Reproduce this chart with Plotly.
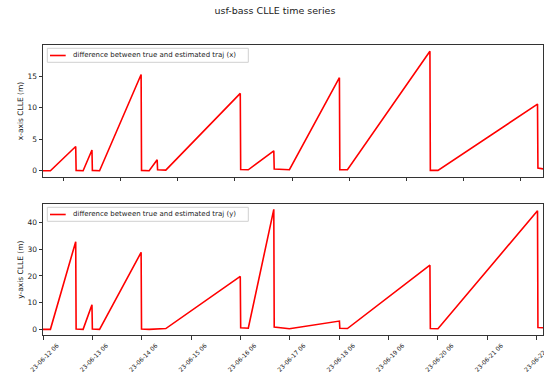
import plotly.graph_objects as go

# sample times (local time) shared by both series
times = [
    "2023-06-12 06:00", "2023-06-12 09:36", "2023-06-12 21:54", "2023-06-12 22:06",
    "2023-06-13 01:30", "2023-06-13 05:48", "2023-06-13 06:00", "2023-06-13 09:30",
    "2023-06-14 05:42", "2023-06-14 05:54", "2023-06-14 09:36", "2023-06-14 13:30",
    "2023-06-14 13:42", "2023-06-14 17:42", "2023-06-16 05:54", "2023-06-16 06:06",
    "2023-06-16 09:48", "2023-06-16 22:12", "2023-06-16 22:24", "2023-06-17 05:48",
    "2023-06-18 06:06", "2023-06-18 06:18", "2023-06-18 10:00", "2023-06-20 02:06",
    "2023-06-20 02:18", "2023-06-20 06:00", "2023-06-22 06:24", "2023-06-22 06:36",
    "2023-06-22 09:04",
]

# CLLE in x (m)
clle_x = [
    0.0, 0.0, 3.85, 0.05,
    0.0, 3.3, 0.05, 0.0,
    15.3, 0.05, 0.0, 1.74,
    0.15, 0.1, 12.3, 0.2,
    0.15, 3.16, 0.27, 0.16,
    14.8, 0.16, 0.15, 19.0,
    0.05, 0.05, 10.6, 0.42,
    0.3,
]

# CLLE in y (m)
clle_y = [
    0.0, 0.0, 32.8, 0.1,
    0.0, 9.2, 0.1, 0.0,
    28.8, 0.1, 0.0, 0.05,
    0.05, 0.3, 19.8, 0.6,
    0.4, 44.9, 0.85, 0.2,
    3.1, 0.4, 0.3, 24.0,
    0.3, 0.2, 44.4, 0.7,
    0.6,
]

x_range = ["2023-06-12 06:00", "2023-06-22 09:04"]

# top panel: unlabelled ticks every 100000 s
top_ticks = [
    "2023-06-12 16:00:00", "2023-06-13 19:46:40", "2023-06-14 23:33:20",
    "2023-06-16 03:20:00", "2023-06-17 07:06:40", "2023-06-18 10:53:20",
    "2023-06-19 14:40:00", "2023-06-20 18:26:40", "2023-06-21 22:13:20",
]

# bottom panel: daily ticks
bottom_ticks = [f"2023-06-{d:02d} 06:00" for d in range(12, 23)]
bottom_labels = [f"23-06-{d:02d} 06" for d in range(12, 23)]

legend_labels = [
    "difference between true and estimated traj (x)",
    "difference between true and estimated traj (y)",
]

FONT = "DejaVu Sans"
AX = "#333333"
TXT = "#222222"
W, H = 544, 372
ML, MR = 43, 1
PW = W - ML - MR


def px(x):
    return (x - ML) / PW


def py(y):
    return 1 - y / H


fig = go.Figure()
fig.add_trace(go.Scatter(
    x=times, y=clle_x, mode="lines",
    line=dict(color="#ff0000", width=1.6),
    name=legend_labels[0], xaxis="x", yaxis="y",
))
fig.add_trace(go.Scatter(
    x=times, y=clle_y, mode="lines",
    line=dict(color="#ff0000", width=1.6),
    name=legend_labels[1], xaxis="x2", yaxis="y2",
))

# matplotlib-style legend boxes (compact)
for label, top in zip(legend_labels, [48.3, 207.3]):
    fig.add_shape(type="rect", xref="paper", yref="paper",
                  x0=px(47.3), x1=px(248.3), y0=py(top + 14), y1=py(top),
                  line=dict(color="#d0d0d0", width=1),
                  fillcolor="rgba(255,255,255,0.8)", layer="above")
    fig.add_shape(type="line", xref="paper", yref="paper",
                  x0=px(50), x1=px(65.7), y0=py(top + 7.2), y1=py(top + 7.2),
                  line=dict(color="#ff0000", width=1.6), layer="above")
    fig.add_annotation(text=label, xref="paper", yref="paper",
                       x=px(70.5), y=py(top + 7), xanchor="left", yanchor="middle",
                       showarrow=False, font=dict(family=FONT, size=7, color=TXT))

axis_common = dict(
    showline=True, linecolor=AX, linewidth=1, mirror=True,
    ticks="outside", ticklen=3.5, tickcolor=AX, tickwidth=1,
    showgrid=False, zeroline=False, automargin=False,
)

fig.update_layout(
    width=W, height=H,
    margin=dict(l=ML, r=MR, t=0, b=0),
    paper_bgcolor="white", plot_bgcolor="white",
    font=dict(family=FONT, color=TXT),
    showlegend=False,
    title=dict(
        text="usf-bass CLLE time series",
        x=0.5055, y=0.970, xanchor="center", yanchor="middle",
        font=dict(family=FONT, size=9.5, color=TXT),
    ),
    xaxis=dict(
        **axis_common, domain=[0, 1], anchor="y", type="date",
        range=x_range, tickvals=top_ticks, showticklabels=False,
    ),
    yaxis=dict(
        **axis_common, domain=[0.525, 0.8782], anchor="x",
        range=[-0.95, 19.95], tickvals=[0, 5, 10, 15],
        tickfont=dict(family=FONT, size=7.5, color=TXT),
        title=dict(text="x-axis CLLE (m)", standoff=2,
                   font=dict(family=FONT, size=7.5, color=TXT)),
    ),
    xaxis2=dict(
        **axis_common, domain=[0, 1], anchor="y2", type="date",
        range=x_range, tickvals=bottom_ticks, ticktext=bottom_labels,
        tickangle=-45, ticklabelshift=14, ticklabeloverflow="allow",
        tickfont=dict(family=FONT, size=6, color=TXT),
    ),
    yaxis2=dict(
        **axis_common, domain=[0.0986, 0.4516], anchor="x2",
        range=[-2.24, 46.9], tickvals=[0, 10, 20, 30, 40],
        tickfont=dict(family=FONT, size=7.5, color=TXT),
        title=dict(text="y-axis CLLE (m)", standoff=2,
                   font=dict(family=FONT, size=7.5, color=TXT)),
    ),
)

# drop the default page margin so the 544x372 figure fills the window exactly
fig.write_html(
    "out.html",
    config={"displayModeBar": False},
    post_script="document.body.style.margin='0';document.body.style.overflow='hidden';",
)
